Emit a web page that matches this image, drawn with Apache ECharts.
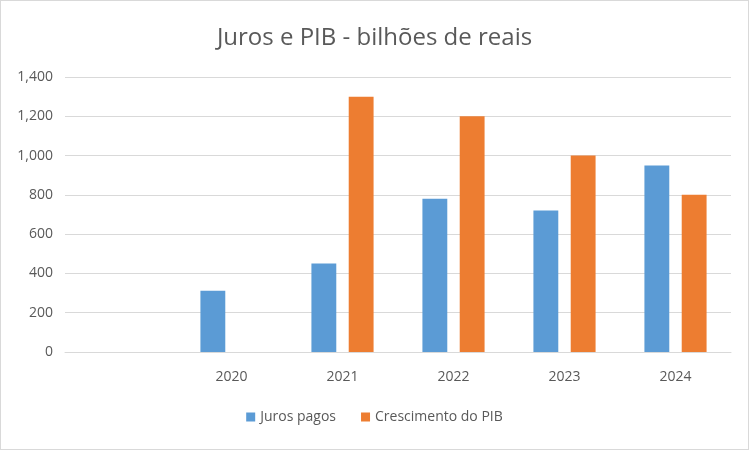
<!DOCTYPE html>
<html><head><meta charset="utf-8">
<script src="https://cdn.jsdelivr.net/npm/echarts@6/dist/echarts.min.js"></script>
<style>html,body{margin:0;padding:0;background:#fff}#c{width:747px;height:448px;border:1px solid #d9d9d9}</style>
</head><body><div id="c"></div>
<script>
const categories = ['', '2020', '2021', '2022', '2023', '2024'];
const juros = [null, 312, 450, 780, 720, 950];
const pib = [null, null, 1300, 1200, 1000, 800];
const yTicks = [0, 200, 400, 600, 800, 1000, 1200, 1400];
const chart = echarts.init(document.getElementById('c'));
chart.setOption({
  animation: false,
  title: {text: 'Juros e PIB - bilhões de reais', left: 'center', top: 20,
    textStyle: {fontFamily: 'Open Sans', fontWeight: 'normal', fontSize: 24, color: '#595959'}},
  grid: {left: 64, right: 17, top: 76, bottom: 97},
  legend: {bottom: 20, itemWidth: 9, itemHeight: 9, itemGap: 25,
    textStyle: {fontFamily: 'Open Sans', fontSize: 14, color: '#595959'},
    data: [{name: 'Juros pagos', icon: 'rect'}, {name: 'Crescimento do PIB', icon: 'rect'}]},
  xAxis: {type: 'category', data: categories,
    axisLine: {lineStyle: {color: '#d9d9d9'}}, axisTick: {show: false},
    axisLabel: {color: '#595959', fontSize: 14, fontFamily: 'Open Sans', margin: 18}},
  yAxis: {type: 'value', min: yTicks[0], max: yTicks[yTicks.length-1], interval: 200,
    axisLabel: {color: '#595959', fontSize: 14, fontFamily: 'Open Sans', margin: 12},
    splitLine: {lineStyle: {color: '#d9d9d9'}}},
  series: [
    {name: 'Juros pagos', type: 'bar', data: juros, itemStyle: {color: '#5b9bd5'},
      barGap: '50%', barCategoryGap: '44%'},
    {name: 'Crescimento do PIB', type: 'bar', data: pib, itemStyle: {color: '#ed7d31'}}
  ]
});
</script></body></html>
